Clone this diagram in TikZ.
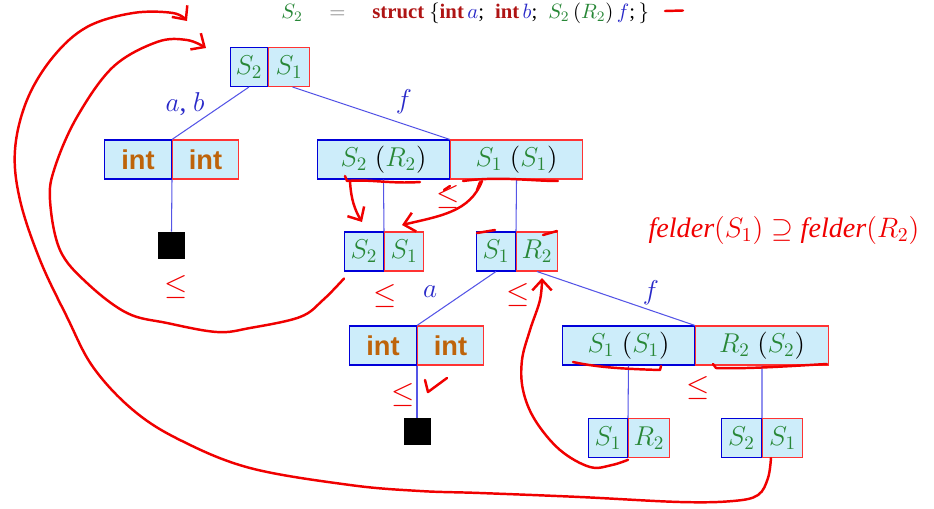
\RequirePackage{fix-cm}
\documentclass[tikz,border=0pt]{standalone}
\usepackage{amsmath}
\usepackage{fontspec}
\setmainfont{Liberation Serif}
\newfontfamily\kwfont{Liberation Sans}
\usepackage{tikz}
\usetikzlibrary{arrows.meta,positioning}

\definecolor{cellfill}{RGB}{205,237,250}
\definecolor{tygreen}{RGB}{40,135,55}
\definecolor{kwbrown}{RGB}{190,100,10}
\definecolor{labblue}{RGB}{40,40,200}
\definecolor{edgeblue}{RGB}{85,85,230}
\definecolor{penred}{RGB}{240,0,0}
\definecolor{structred}{RGB}{175,20,20}

\newcommand{\ty}[1]{\textcolor{tygreen}{#1}}
\newcommand{\kw}{{\kwfont\bfseries\color{kwbrown}int}}

\begin{document}
\begin{tikzpicture}[x=0.02cm, y=-0.02cm,
    cell/.style={fill=cellfill, inner sep=0pt, minimum height=0.78cm, line width=0.6pt, font=\fontsize{15.5}{18}\selectfont},
    lcell/.style={cell, draw=blue!85!black, anchor=east},
    rcell/.style={cell, draw=red!80, anchor=west},
    nil/.style={fill=black, inner sep=0pt, minimum size=0.54cm},
    edge/.style={draw=edgeblue, line width=0.6pt},
    lab/.style={font=\fontsize{15.5}{18}\selectfont, text=labblue},
    head/.style={inner sep=0pt, anchor=base west, font=\fontsize{11.8}{14}\selectfont},
    pen/.style={draw=penred, line width=1.4pt, line cap=round, line join=round},
    barb/.style={-{Straight Barb[length=6pt,width=11pt,line width=1.4pt]}},
    leqmark/.style={text=penred, font=\fontsize{17}{17}\selectfont}]

    \useasboundingbox (0,0) rectangle (934,508);

    % declaration on top
    \node[head] (lhs) at (281,18) {$\ty{S_2}$};
    \node[head, text=gray] (eqsign) at (329,18) {$=$};
    \node[head] (rhs) at (372,18) {\textcolor{structred}{\textbf{struct}}\ $\{$\textcolor{structred}{\textbf{int}}\,\textcolor{labblue}{$a$};\;\ \textcolor{structred}{\textbf{int}}\,\textcolor{labblue}{$b$};\;\ $\ty{S_2}\,(\ty{R_2})\,\textcolor{labblue}{f}$;\,$\}$};

    % type graph: left cell / right cell meet at the given point
    \node[lcell, minimum width=0.74cm] (rootL) at (268,67) {$\ty{S_2}$};
    \node[rcell, minimum width=0.82cm] (rootR) at (268,67) {$\ty{S_1}$};

    \node[lcell, minimum width=1.34cm] (abL) at (172,159.5) {\kw};
    \node[rcell, minimum width=1.32cm] (abR) at (172,159.5) {\kw};

    \node[lcell, minimum width=2.64cm] (fL) at (450,159.5) {$\ty{S_2}\;(\ty{R_2})$};
    \node[rcell, minimum width=2.64cm] (fR) at (450,159.5) {$\ty{S_1}\;(\ty{S_1})$};

    \node[nil] (nilA) at (171.5,245.5) {};

    \node[lcell, minimum width=0.78cm] (sL) at (384,251.5) {$\ty{S_2}$};
    \node[rcell, minimum width=0.78cm] (sR) at (384,251.5) {$\ty{S_1}$};

    \node[lcell, minimum width=0.78cm] (rL) at (516,251.5) {$\ty{S_1}$};
    \node[rcell, minimum width=0.82cm] (rR) at (516,251.5) {$\ty{R_2}$};

    \node[lcell, minimum width=1.34cm] (aL) at (417,345.5) {\kw};
    \node[rcell, minimum width=1.32cm] (aR) at (417,345.5) {\kw};

    \node[nil] (nilB) at (417,431.5) {};

    \node[lcell, minimum width=2.64cm] (gL) at (695,345.5) {$\ty{S_1}\;(\ty{S_1})$};
    \node[rcell, minimum width=2.66cm] (gR) at (695,345.5) {$\ty{R_2}\;(\ty{S_2})$};

    \node[lcell, minimum width=0.78cm] (hL) at (628,438) {$\ty{S_1}$};
    \node[rcell, minimum width=0.82cm] (hR) at (628,438) {$\ty{R_2}$};

    \node[lcell, minimum width=0.8cm] (kL) at (762,438) {$\ty{S_2}$};
    \node[rcell, minimum width=0.8cm] (kR) at (762,438) {$\ty{S_1}$};

    % edges
    \draw[edge] (rootL.south) -- (abL.north east);
    \draw[edge] (rootR.280) -- (fL.north east);
    \draw[edge] (abL.south east) -- (nilA.north);
    \draw[edge] (fL.south) -- (sL.north east);
    \draw[edge] (fR.south) -- (rL.north east);
    \draw[edge] (rL.south) -- (aL.north east);
    \draw[edge] (rR.south) -- (gL.north east);
    \draw[edge] (aL.south east) -- (nilB.north);
    \draw[edge] (gL.south) -- (hL.north east);
    \draw[edge] (gR.south) -- (kL.north east);

    \node[lab] (labAB) at (185,104) {$a$, $b$};
    \node[lab] (labF1) at (404,102) {$f$};
    \node[lab] (labA) at (430,292) {$a$};
    \node[lab] (labF2) at (651,293) {$f$};

    % handwritten notes
    \node[text=penred, font=\fontsize{16}{18}\selectfont\itshape] (felder) at (784,230)
        {felder$(S_1)\supseteq{}$felder$(R_2)$};

    \foreach \x/\y [count=\i] in {448/197, 176/287, 385/296, 518/295, 403/395, 698/388}
        \node[leqmark] (le\i) at (\x,\y) {$\leq$};

    \draw[pen, barb] plot[smooth, tension=0.6] coordinates {(kR.240) (768,478) (758,495)
        (733,501) (680,502) (580,497) (480,493) (420,491) (350,485) (250,468) (180,440)
        (133,410) (93,367) (67,317) (40,260) (20,200) (15,150) (27,100) (53,57) (87,27)
        (133,13) (173,13) (187,21)};
    \draw[pen, barb] plot[smooth, tension=0.6] coordinates {([yshift=-4pt]sL.south west)
        (323,300) (300,317) (250,328) (217,332) (167,323) (127,313) (87,283) (60,250)
        (50,200) (55,167) (77,117) (113,67) (157,42) (187,40) (206,48)};
    \draw[pen, barb] plot[smooth, tension=0.6] coordinates {([yshift=-1pt]hL.south east)
        (612,465) (590,467) (560,450) (535,420) (523,390) (522,360) (530,330) (540,300)
        (542,278)};
    \draw[pen, barb] (350,181) .. controls (351,200) and (355,210) .. (362,222);
    \draw[pen, barb] (482,181) .. controls (470,212) and (440,216) .. (402,225);

    \draw[pen] (345,176) -- (347,181) .. controls (370,179) and (390,184) .. (420,182);
    \draw[pen] (444,190) -- (450,186);
    \draw[pen] (463,181) .. controls (500,176) and (530,181) .. (558,181);
    \draw[pen] (480,182) -- (477,190);
    \draw[pen] (477,233) -- (495,230);
    \draw[pen] (543,235) -- (557,231);
    \draw[pen] (573,362) .. controls (600,368) and (630,369) .. (660,370) -- (661,366);
    \draw[pen] (713,364) -- (716,368) .. controls (750,369) and (790,366) .. (827,364);
    \draw[pen] (425,380) -- (428,392) -- (447,378);
    \draw[pen] (665,11) -- (683,10.5);
\end{tikzpicture}
\end{document}
